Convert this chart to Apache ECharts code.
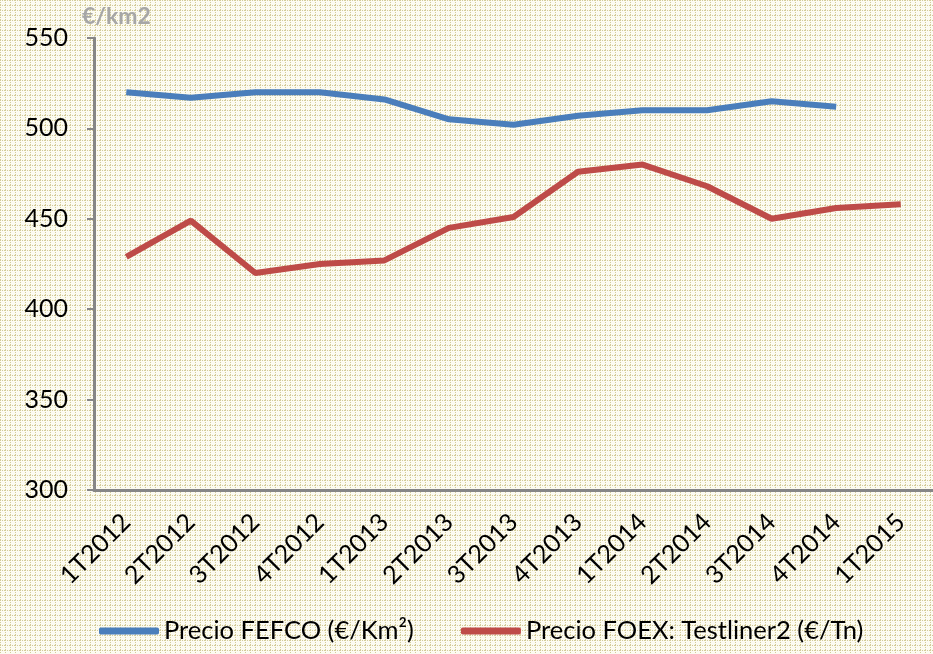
<!DOCTYPE html>
<html>
<head>
<meta charset="utf-8">
<script src="https://cdn.jsdelivr.net/npm/echarts@6/dist/echarts.min.js"></script>
<style>
  html, body { margin: 0; padding: 0; }
  #chart { width: 933px; height: 654px; }
</style>
</head>
<body>
<div id="chart"></div>
<script>
const categories = ["1T2012", "2T2012", "3T2012", "4T2012", "1T2013", "2T2013", "3T2013", "4T2013", "1T2014", "2T2014", "3T2014", "4T2014", "1T2015"];
const fefco = [520, 517, 520, 520, 516, 505, 502, 507, 510, 510, 515, 512, null];
const foex = [429, 449, 420, 425, 427, 445, 451, 476, 480, 468, 450, 456, 458];
const yTicks = { min: 300, max: 550, interval: 50 };

// fine dotted grid texture for the background
const tile = document.createElement("canvas");
tile.width = 5;
tile.height = 5;
const tctx = tile.getContext("2d");
tctx.fillStyle = "#fcfbf1";
tctx.fillRect(0, 0, 5, 5);
tctx.fillStyle = "#d4cc98";
for (let i = 0; i < 5; i += 2) {
  tctx.fillRect(i, 0, 1, 1);
  tctx.fillRect(0, i, 1, 1);
}

const chart = echarts.init(document.getElementById("chart"));
const font = "Lato";

chart.setOption({
  animation: false,
  backgroundColor: { image: tile, repeat: "repeat" },
  textStyle: { fontFamily: font },
  grid: { left: 94, right: -1, top: 38, bottom: 164 },
  legend: {
    bottom: 5,
    left: 94,
    itemWidth: 60,
    itemHeight: 7,
    itemGap: 47,
    icon: "roundRect",
    textStyle: { fontSize: 25.5, color: "#000", fontFamily: font },
    data: ["Precio FEFCO (€/Km²)", "Precio FOEX: Testliner2 (€/Tn)"]
  },
  xAxis: {
    type: "category",
    data: categories,
    boundaryGap: true,
    axisLine: { lineStyle: { color: "#868686", width: 3 } },
    axisTick: { alignWithLabel: false, length: 7, lineStyle: { color: "#868686", width: 2 } },
    axisLabel: { rotate: 45, fontSize: 25, color: "#000", margin: 28, interval: 0 }
  },
  yAxis: {
    type: "value",
    min: yTicks.min,
    max: yTicks.max,
    interval: yTicks.interval,
    name: "€/km2",
    nameLocation: "end",
    nameGap: 10,
    nameTextStyle: { color: "#a6a6a6", fontSize: 23, fontWeight: "bold", align: "left", padding: [0, 0, 0, -12] },
    axisLine: { show: true, lineStyle: { color: "#868686", width: 3 } },
    axisTick: { show: true, length: 7, lineStyle: { color: "#868686", width: 2 } },
    axisLabel: { fontSize: 25, color: "#000", margin: 26 },
    splitLine: { show: false }
  },
  series: [
    {
      name: "Precio FEFCO (€/Km²)",
      type: "line",
      data: fefco,
      symbol: "none",
      lineStyle: { width: 6, color: "#4a7ebb" },
      itemStyle: { color: "#4a7ebb" }
    },
    {
      name: "Precio FOEX: Testliner2 (€/Tn)",
      type: "line",
      data: foex,
      symbol: "none",
      lineStyle: { width: 6, color: "#be4b48" },
      itemStyle: { color: "#be4b48" }
    }
  ]
});
</script>
</body>
</html>
